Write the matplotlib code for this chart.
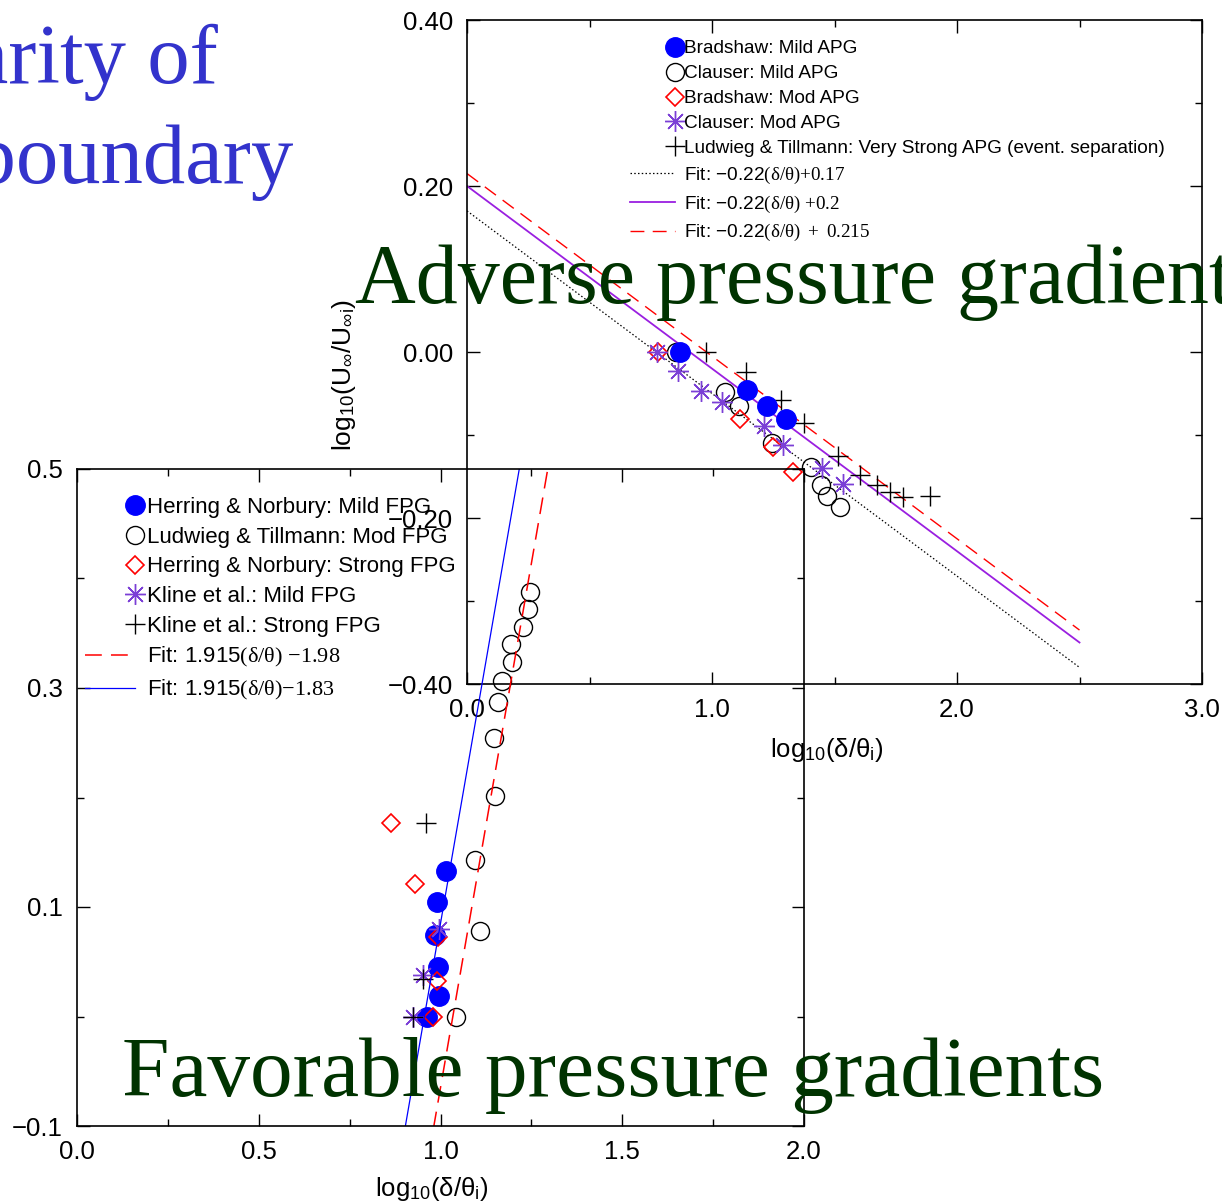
import numpy as np
import matplotlib
matplotlib.use("Agg")
import matplotlib.pyplot as plt
from matplotlib.lines import Line2D
from matplotlib.legend_handler import HandlerLine2DCompound
from matplotlib.ticker import MultipleLocator

plt.rcParams['font.family'] = ['Liberation Sans', 'DejaVu Sans']
plt.rcParams['mathtext.fontset'] = 'custom'
plt.rcParams['mathtext.rm'] = 'Liberation Serif'
plt.rcParams['mathtext.it'] = 'Liberation Serif'
plt.rcParams['mathtext.bf'] = 'Liberation Serif:bold'

# ---- adverse pressure gradient data (upper plot)
brad_mild_x = [0.869, 1.143, 1.224, 1.302]
brad_mild_y = [0.0, -0.046, -0.065, -0.081]
claus_mild_x = [0.853, 1.053, 1.110, 1.245, 1.404, 1.445, 1.469, 1.522]
claus_mild_y = [0.0, -0.048, -0.065, -0.110, -0.139, -0.160, -0.173, -0.187]
brad_mod_x = [0.780, 1.114, 1.249, 1.331]
brad_mod_y = [0.0, -0.081, -0.114, -0.145]
claus_mod_x = [0.776, 0.861, 0.955, 1.041, 1.212, 1.290, 1.449, 1.535]
claus_mod_y = [0.0, -0.023, -0.047, -0.060, -0.089, -0.112, -0.140, -0.159]
lt_vs_x = [0.976, 1.139, 1.282, 1.376, 1.514, 1.604, 1.673, 1.727, 1.780, 1.890]
lt_vs_y = [0.0, -0.024, -0.058, -0.086, -0.125, -0.148, -0.160, -0.169, -0.175, -0.173]
apg_slope = -0.22
apg_icpt = [0.17, 0.2, 0.215]
apg_fit_x = np.array([0.0, 2.5])

# ---- favorable pressure gradient data (lower plot)
hn_mild_x = [1.014, 0.989, 0.984, 0.992, 0.997, 0.962]
hn_mild_y = [0.133, 0.105, 0.074, 0.045, 0.019, 0.0]
lt_mod_x = [1.247, 1.242, 1.228, 1.195, 1.198, 1.170, 1.157, 1.146, 1.151, 1.096, 1.110, 1.044]
lt_mod_y = [0.388, 0.372, 0.356, 0.340, 0.324, 0.306, 0.287, 0.254, 0.201, 0.143, 0.078, 0.0]
hn_strong_x = [0.863, 0.929, 0.992, 0.989, 0.978]
hn_strong_y = [0.177, 0.121, 0.073, 0.032, 0.0]
kline_mild_x = [0.997, 0.951, 0.923]
kline_mild_y = [0.080, 0.038, 0.0]
kline_strong_x = [0.959, 0.953, 0.923]
kline_strong_y = [0.177, 0.034, 0.0]
fpg_slope = 1.915
fpg_icpt = [-1.98, -1.83]
fpg_fit_x = np.array([0.85, 1.4])

up_xticks = [0.0, 1.0, 2.0, 3.0]
up_yticks = [-0.4, -0.2, 0.0, 0.2, 0.4]
lo_xticks = [0.0, 0.5, 1.0, 1.5, 2.0]
lo_yticks = [-0.1, 0.1, 0.3, 0.5]

BLUE = '#0000ff'
RED = '#ff0000'
PURPLE = '#7b3fd6'
VIOLET = '#9a1fe0'
GREEN = '#003300'
TITLE = '#3333cc'
SERIF = 'Liberation Serif'


class EndMarker(HandlerLine2DCompound):
    # marker sits right next to the text, line stops a bit short of it
    def get_xdata(self, legend, xdescent, ydescent, width, height, fontsize):
        xe = -xdescent + width - 0.45 * fontsize
        return np.array([-xdescent, xe]), np.array([xe])


def fmt(v, n):
    return f'{v:.{n}f}'.replace('-', '\u2212')


W, H = 1222, 1204
fig = plt.figure(figsize=(W / 100, H / 100), dpi=100)


def box(l, t, r, b):
    return [l / W, 1 - b / H, (r - l) / W, (b - t) / H]


def style(ax):
    ax.set_facecolor('none')
    for s in ax.spines.values():
        s.set_linewidth(1.2)
    ax.tick_params(which='both', direction='in', top=True, right=True,
                   labelsize=18.5, pad=10, width=1)
    ax.tick_params(which='major', length=9)
    ax.tick_params(which='minor', length=5)


# ---------------- upper: adverse
ax1 = fig.add_axes(box(467, 20, 1202, 684))
style(ax1)
ax1.plot(apg_fit_x, apg_slope * apg_fit_x + apg_icpt[0], color='k', lw=0.9,
         dashes=(1.2, 1.8), label='Fit: \u22120.22$\\mathrm{(δ/θ){+}0.17}$')
ax1.plot(apg_fit_x, apg_slope * apg_fit_x + apg_icpt[1], color=VIOLET, lw=1.3,
         label='Fit: \u22120.22$\\mathrm{(δ/θ)\\ {+}0.2}$')
ax1.plot(apg_fit_x, apg_slope * apg_fit_x + apg_icpt[2], color=RED, lw=1.0,
         dashes=(10, 6), label='Fit: \u22120.22$\\mathrm{(δ/θ)\\ +\\ 0.215}$')
h_cm, = ax1.plot(claus_mild_x, claus_mild_y, 'o', ms=13, mfc='none', mec='k', mew=1,
                 label='Clauser: Mild APG')
h_bd, = ax1.plot(brad_mod_x, brad_mod_y, 'D', ms=9, mfc='none', mec=RED, mew=1.2,
                 label='Bradshaw: Mod APG')
h_cd, = ax1.plot(claus_mod_x, claus_mod_y, marker=(8, 2, 0), ls='none', ms=15,
                 mec=PURPLE, mew=1, label='Clauser: Mod APG')
h_lt, = ax1.plot(lt_vs_x, lt_vs_y, '+', ms=14, mec='k', mew=1,
                 label='Ludwieg & Tillmann: Very Strong APG (event. separation)')
h_bm, = ax1.plot(brad_mild_x, brad_mild_y, 'o', ms=14, color=BLUE, mec=BLUE,
                 label='Bradshaw: Mild APG', zorder=5)
ax1.set_xlim(0, 3)
ax1.set_ylim(-0.4, 0.4)
ax1.set_xticks(up_xticks, [fmt(v, 1) for v in up_xticks])
ax1.set_yticks(up_yticks, [fmt(v, 2) for v in up_yticks])
ax1.xaxis.set_minor_locator(MultipleLocator(0.5))
ax1.yaxis.set_minor_locator(MultipleLocator(0.1))
ax1.set_xlabel('log$_{\\mathregular{10}}$(δ/θ$_{\\mathregular{i}}$)', fontsize=18.5)
ax1.xaxis.set_label_coords(0.49, -0.078)
ax1.set_ylabel('log$_{\\mathregular{10}}$(U$_{\\mathregular{∞}}$/U$_{\\mathregular{∞i}}$)', fontsize=19)
ax1.yaxis.set_label_coords(-0.148, 0.465)
hl = ax1.get_lines()
up_handles = [h_bm, h_cm, h_bd, h_cd, h_lt, hl[0], hl[1], hl[2]]
ax1.legend(up_handles, [h.get_label() for h in up_handles],
           loc='upper left', bbox_to_anchor=(630 / W, 1 - 40 / H),
           bbox_transform=fig.transFigure, frameon=False, fontsize=13.7,
           borderpad=0, borderaxespad=0, handlelength=2.8, handletextpad=0.05,
           labelspacing=0.4, handler_map={Line2D: EndMarker()})

# ---------------- lower: favorable
ax2 = fig.add_axes(box(77, 469, 804, 1126))
style(ax2)
ax2.plot(hn_mild_x, hn_mild_y, 'o', ms=14, color=BLUE, mec=BLUE,
         label='Herring & Norbury: Mild FPG')
ax2.plot(lt_mod_x, lt_mod_y, 'o', ms=13, mfc='none', mec='k', mew=1,
         label='Ludwieg & Tillmann: Mod FPG')
ax2.plot(hn_strong_x, hn_strong_y, 'D', ms=9, mfc='none', mec=RED, mew=1.2,
         label='Herring & Norbury: Strong FPG')
ax2.plot(kline_mild_x, kline_mild_y, marker=(8, 2, 0), ls='none', ms=15,
         mec=PURPLE, mew=1, label='Kline et al.: Mild FPG')
ax2.plot(kline_strong_x, kline_strong_y, '+', ms=14, mec='k', mew=1,
         label='Kline et al.: Strong FPG')
ax2.plot(fpg_fit_x, fpg_slope * fpg_fit_x + fpg_icpt[0], color=RED, lw=1.1,
         dashes=(11, 6), label='Fit: 1.915$\\mathrm{(δ/θ)\\ {-}1.98}$')
ax2.plot(fpg_fit_x, fpg_slope * fpg_fit_x + fpg_icpt[1], color=BLUE, lw=0.9,
         label='Fit: 1.915$\\mathrm{(δ/θ){-}1.83}$')
ax2.set_xlim(0, 2)
ax2.set_ylim(-0.1, 0.5)
ax2.set_xticks(lo_xticks, [fmt(v, 1) for v in lo_xticks])
ax2.set_yticks(lo_yticks, [fmt(v, 1) for v in lo_yticks])
ax2.xaxis.set_minor_locator(MultipleLocator(0.25))
ax2.yaxis.set_minor_locator(MultipleLocator(0.1))
ax2.set_xlabel('log$_{\\mathregular{10}}$(δ/θ$_{\\mathregular{i}}$)', fontsize=18.5)
ax2.xaxis.set_label_coords(0.488, -0.075)
ax2.legend(loc='upper left', bbox_to_anchor=(85 / W, 1 - 497 / H),
           bbox_transform=fig.transFigure, frameon=False, fontsize=16,
           borderpad=0, borderaxespad=0, handlelength=2.7, handletextpad=0.1,
           labelspacing=0.39, handler_map={Line2D: EndMarker()})

# ---------------- slide text
fig.text(218 / W, 1 - 83 / H, 'Similarity of', ha='right', va='baseline',
         fontsize=61, family=SERIF, color=TITLE)
fig.text(293 / W, 1 - 183 / H, 'turbulent boundary', ha='right', va='baseline',
         fontsize=61, family=SERIF, color=TITLE)
fig.text(355 / W, 1 - 303 / H, 'Adverse pressure gradients', ha='left', va='baseline',
         fontsize=60.5, family=SERIF, color=GREEN, zorder=10)
fig.text(122 / W, 1 - 1096 / H, 'Favorable pressure gradients', ha='left', va='baseline',
         fontsize=61.5, family=SERIF, color=GREEN, zorder=10)

fig.savefig('out.png', dpi=100)
